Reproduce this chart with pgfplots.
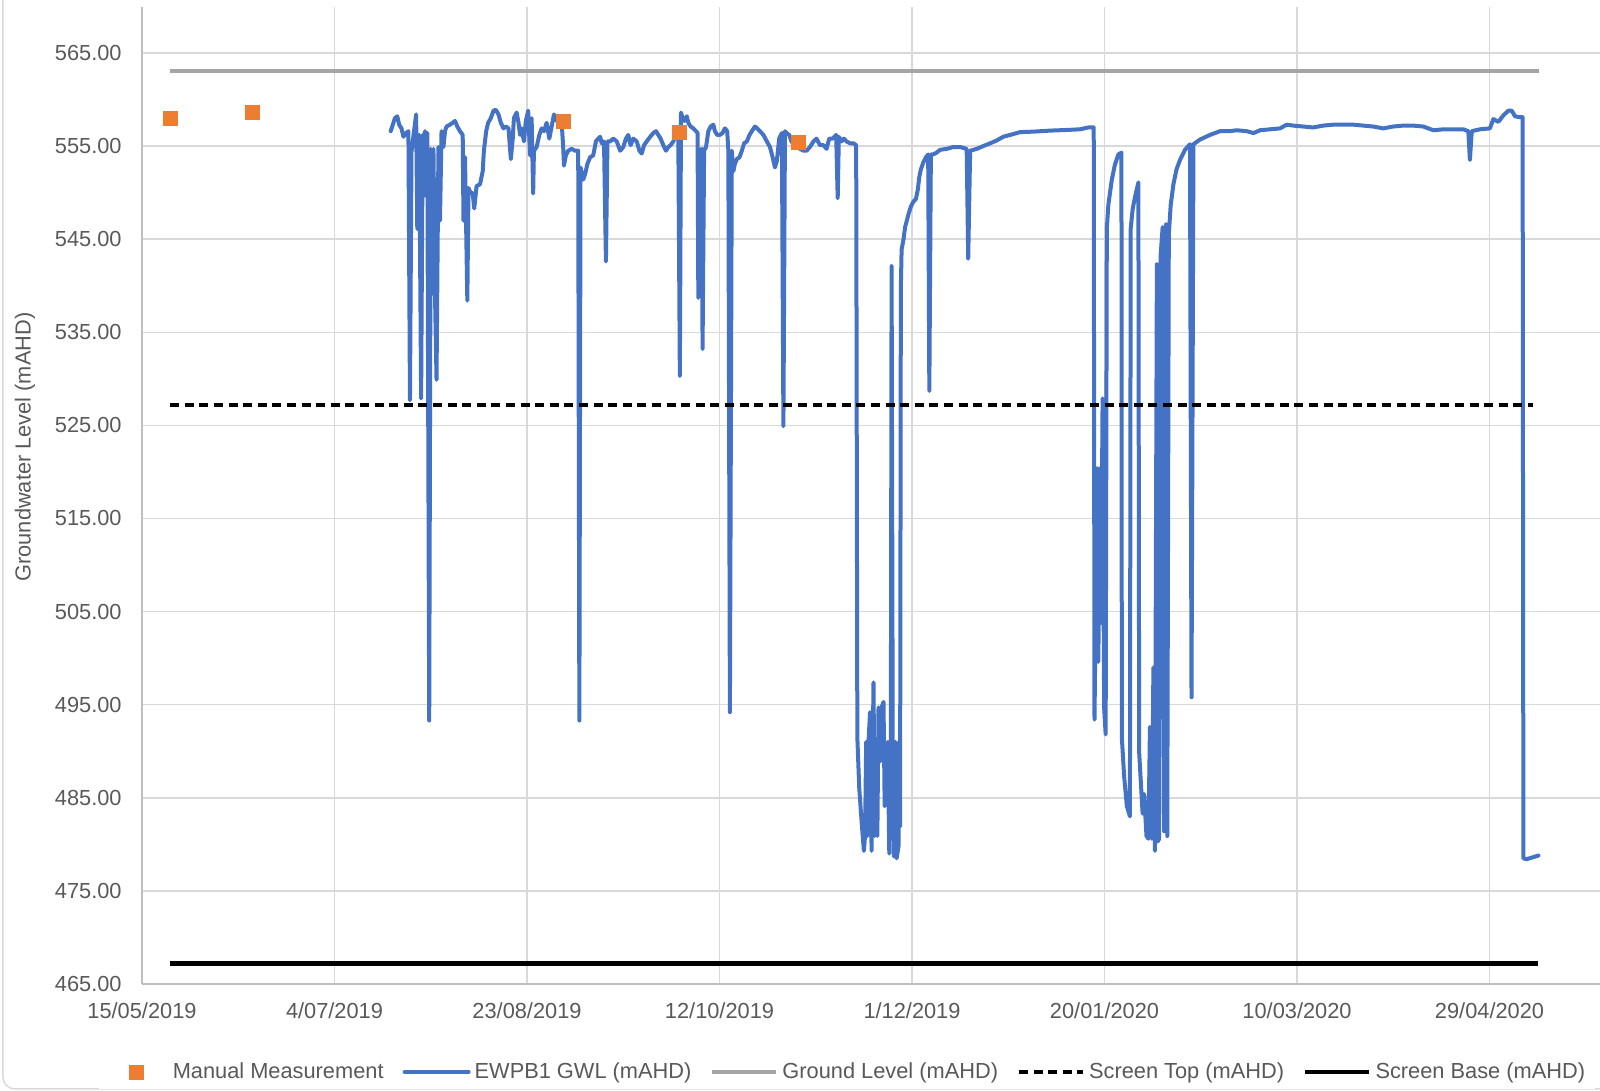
\documentclass[border=0pt]{standalone}
\usepackage{pgfplots}
\pgfplotsset{compat=1.18}
\usepackage{fontspec}
\setmainfont{Liberation Sans}
\definecolor{txt}{HTML}{595959}
\definecolor{gridc}{HTML}{D9D9D9}
\definecolor{axc}{HTML}{BFBFBF}
\definecolor{blueL}{HTML}{4472C4}
\definecolor{orangeM}{HTML}{ED7D31}
\definecolor{groundC}{HTML}{A5A5A5}
\begin{document}
\begin{tikzpicture}
\useasboundingbox (-71pt,-53.5pt) rectangle (729pt,492pt);
\draw[gridc, line width=0.75pt, rounded corners=6pt] (-69.5pt,492pt) -- (-69.5pt,-52.5pt) -- (729pt,-52.5pt);
\begin{axis}[
 at={(0,0)}, anchor=south west,
 scale only axis, width=729pt, height=488.5pt,
 xmin=0, xmax=378.7, ymin=465, ymax=569.94,
 xtick={0,50,...,350},
 xticklabels={15/05/2019,4/07/2019,23/08/2019,12/10/2019,1/12/2019,20/01/2020,10/03/2020,29/04/2020},
 ytick={465,475,...,565},
 yticklabels={465.00,475.00,485.00,495.00,505.00,515.00,525.00,535.00,545.00,555.00,565.00},
 grid=major, grid style={draw=gridc, line width=0.75pt},
 axis lines*=left, axis line style={draw=axc, line width=0.75pt, -},
 major tick length=0pt,
 ticklabel style={font=\fontsize{10.9}{13}\selectfont, text=txt},
 xticklabel style={anchor=north, inner sep=0pt, yshift=-9pt},
 yticklabel style={anchor=east, inner sep=0pt, xshift=-10pt},
 legend columns=5,
 legend style={at={(axis description cs:0.4835,-0.09)}, anchor=center, draw=none,
   font=\fontsize{10.9}{13}\selectfont, text=txt,
   /tikz/every odd column/.append style={column sep=0pt},
   /tikz/every even column/.append style={column sep=7.5pt}},
 legend image code/.code={\draw[mark repeat=2,mark phase=2] plot coordinates {(0pt,0pt) (16pt,0pt) (32pt,0pt)};},
]
\addplot[only marks, mark=square*, mark size=3.5pt, color=orangeM, mark options={draw=orangeM, fill=orangeM},
  legend image code/.code={\path[draw=none,fill=none] (0pt,0pt) (32pt,0pt); \draw[only marks] plot coordinates {(16pt,0pt)};}] coordinates {
(7.35,558.0) (28.65,558.6) (109.4,557.6) (139.5,556.5) (170.6,555.4)};
\addlegendentry{Manual Measurement}
\addplot[blueL, line width=2pt, line join=round, line cap=round] coordinates {
(64.6,556.6) (65.7,558.0) (66.3,558.2) (66.8,557.3) (67.4,556.9) (67.9,556.0) (68.6,556.4) (69.2,556.6)
(69.6,527.7) (70.0,554.4) (71.2,558.4) (71.5,546.1) (72.0,556.2) (72.5,527.9) (72.9,556.2) (73.1,549.6)
(73.5,556.6) (73.8,549.6) (74.1,556.4) (74.6,493.3) (75.0,554.7) (75.3,539.1) (75.7,554.7) (76.1,539.1)
(76.5,529.9) (77.0,554.9) (77.4,547.0) (77.8,556.6) (78.3,554.9) (78.7,556.6) (79.1,557.1) (80.0,557.3)
(80.7,557.5) (81.3,557.7) (81.9,557.1) (82.6,556.6) (83.3,556.2) (83.5,547.0) (83.9,553.8) (84.5,538.4)
(84.8,550.5) (85.2,550.1) (85.9,549.9) (86.3,548.3) (86.9,550.7) (87.8,550.9) (88.5,552.3) (88.8,554.5)
(89.4,556.6) (89.9,557.5) (90.6,558.0) (91.3,558.8) (91.9,558.9) (92.6,558.4) (93.2,557.5) (93.9,556.9)
(94.5,557.1) (95.2,556.9) (95.8,553.6) (96.3,555.8) (96.6,558.0) (97.3,558.6) (97.8,557.5) (98.2,556.2)
(98.6,556.9) (99.2,555.5) (99.7,557.7) (100.3,558.8) (100.8,554.0) (101.2,558.0) (101.6,549.9) (101.8,554.5)
(102.5,554.9) (103.2,556.2) (103.8,556.9) (104.4,556.6) (105.1,557.5) (105.8,555.8) (106.4,557.1) (107.0,558.4)
(107.7,557.7) (108.4,558.0) (109.0,557.5) (109.4,554.9) (109.6,552.9) (110.1,554.0) (110.7,554.5) (111.6,554.7)
(112.5,554.5) (113.3,554.5) (113.6,493.3) (113.9,552.7) (114.6,551.4) (115.1,552.0) (115.7,553.1) (116.4,553.8)
(117.2,554.0) (117.9,555.5) (118.5,555.8) (119.0,556.0) (119.4,555.3) (120.0,555.5) (120.5,542.6) (120.9,555.5)
(121.6,555.5) (122.4,555.8) (123.3,555.5) (124.2,554.5) (125.0,554.9) (125.7,555.8) (126.3,556.2) (126.9,555.1)
(127.6,555.8) (128.5,555.5) (129.2,554.5) (129.8,554.2) (130.4,555.1) (131.1,555.5) (132.0,556.0) (132.8,556.4)
(133.5,556.6) (134.1,556.2) (134.7,555.8) (135.4,555.1) (136.1,554.5) (136.7,554.9) (137.3,555.1) (138.0,555.5)
(138.7,556.2) (139.3,556.2) (139.7,530.3) (140.0,558.6) (140.4,558.0) (140.9,557.7) (141.5,558.2) (141.9,557.5)
(142.5,557.1) (143.2,556.9) (143.9,556.6) (144.3,556.4) (144.5,538.7) (144.9,554.5) (145.4,554.7) (145.6,533.2)
(146.0,554.5) (146.5,554.9) (147.1,556.6) (147.7,557.1) (148.4,557.3) (148.8,556.6) (149.4,556.2) (150.1,556.2)
(150.8,556.4) (151.4,556.9) (152.0,556.6) (152.3,554.5) (152.7,494.2) (153.2,554.5) (153.6,552.3) (154.0,553.1)
(154.5,553.6) (155.2,553.8) (155.8,554.5) (156.4,555.3) (157.1,555.5) (157.8,556.2) (158.4,556.6) (159.2,557.1)
(159.8,556.9) (160.5,556.6) (161.4,556.2) (162.3,555.5) (163.1,554.9) (163.8,553.8) (164.4,552.7) (164.9,553.4)
(165.5,555.8) (166.2,556.4) (166.6,524.9) (167.0,556.6) (167.4,556.4) (168.1,556.2) (168.7,555.5) (169.4,555.1)
(170.0,554.9) (170.9,554.7) (171.8,554.5) (172.6,554.5) (173.5,554.9) (174.4,555.5) (175.2,555.8) (176.1,555.1)
(177.0,555.1) (177.8,554.7) (178.5,555.8) (179.4,555.8) (180.3,556.2) (180.7,549.4) (181.0,556.0) (181.7,555.5)
(182.3,555.8) (183.0,555.5) (183.9,555.3) (184.8,555.3) (185.5,555.1) (185.8,491.5) (186.3,486.0) (186.9,482.5)
(187.5,479.3) (187.8,480.9) (188.1,491.0) (188.4,480.9) (188.7,491.0) (189.1,494.2) (189.5,479.3) (190.0,497.4)
(190.3,480.9) (190.7,486.2) (191.0,480.9) (191.3,494.7) (191.7,488.9) (192.1,494.7) (192.6,495.3) (192.9,484.1)
(193.2,486.2) (193.7,491.0) (194.1,479.0) (194.5,490.5) (194.7,542.1) (195.0,490.5) (195.3,478.7) (195.7,491.0)
(196.0,478.5) (196.5,479.8) (196.7,491.0) (196.9,481.9) (197.1,539.7) (197.3,543.9) (197.8,545.0) (198.2,546.3)
(198.6,546.9) (199.1,547.7) (199.7,548.5) (200.3,549.0) (201.0,549.3) (201.5,550.3) (201.9,551.7) (202.3,552.5)
(203.0,553.3) (203.6,553.8) (204.2,554.1) (204.5,528.7) (204.9,554.1) (205.5,554.1) (206.4,554.3) (207.3,554.6)
(209.0,554.7) (210.7,554.9) (212.5,554.9) (214.2,554.7) (214.6,542.9) (215.1,554.5) (216.8,554.7) (218.5,555.0)
(220.3,555.3) (222.0,555.6) (223.7,556.0) (225.5,556.2) (228.1,556.5) (231.5,556.55) (235.8,556.66) (240.2,556.73)
(243.6,556.8) (245.8,557.0) (247.2,557.0) (247.4,493.4) (248.1,520.4) (248.4,499.6) (248.8,520.4) (249.1,503.8)
(249.5,527.9) (249.9,494.7) (250.3,491.8) (250.6,546.1) (251.0,548.7) (251.9,551.4) (252.7,553.0) (253.6,554.1)
(254.4,554.3) (254.5,491.5) (255.1,487.3) (255.8,484.1) (256.6,483.0) (256.8,546.1) (257.3,548.2) (257.9,549.5)
(258.8,551.1) (259.0,489.9) (259.5,486.2) (259.9,483.3) (260.3,485.4) (260.9,480.9) (261.4,480.6) (261.8,492.6)
(262.3,480.6) (262.7,499.0) (263.1,479.3) (263.6,542.3) (263.8,480.3) (264.2,480.6) (264.6,543.4) (265.1,546.3)
(265.5,481.4) (266.0,546.6) (266.3,480.9) (266.7,545.5) (267.2,548.7) (267.9,550.9) (268.7,552.5) (269.6,553.5)
(270.9,554.6) (272.2,555.2) (272.6,495.8) (273.1,555.2) (274.8,555.7) (277.4,556.2) (280.0,556.6) (282.6,556.6)
(284.3,556.7) (286.9,556.6) (288.7,556.4) (290.4,556.7) (293.0,556.8) (295.6,556.9) (297.3,557.3) (299.0,557.2)
(301.6,557.1) (304.2,557.0) (306.8,557.2) (309.4,557.3) (312.0,557.3) (314.6,557.3) (317.2,557.2) (319.8,557.1)
(322.4,556.9) (325.0,557.1) (327.6,557.2) (330.2,557.2) (332.8,557.1) (335.4,556.7) (338.0,556.8) (340.6,556.8)
(343.2,556.8) (344.5,556.6) (344.9,553.5) (345.4,556.6) (347.5,556.8) (350.1,556.9) (351.0,557.9) (352.3,557.6)
(353.6,558.3) (354.9,558.8) (355.8,558.8) (356.6,558.2) (357.9,558.1) (358.6,558.1) (358.8,478.5) (359.6,478.4)
(362.7,478.8)};
\addlegendentry{EWPB1 GWL (mAHD)}
\addplot[groundC, line width=2pt] coordinates {(7.3,563.1) (362.9,563.1)};
\addlegendentry{Ground Level (mAHD)}
\addplot[black, line width=2pt, dash pattern=on 4.5pt off 2.8pt] coordinates {(7.3,527.2) (361.3,527.2)};
\addlegendentry{Screen Top (mAHD)}
\addplot[black, line width=2.2pt] coordinates {(7.3,467.2) (362.6,467.2)};
\addlegendentry{Screen Base (mAHD)}
\end{axis}
\node[rotate=90, font=\fontsize{10.9}{13}\selectfont, text=txt] at (-58.5pt,268.5pt) {Groundwater Level (mAHD)};
\end{tikzpicture}
\end{document}
